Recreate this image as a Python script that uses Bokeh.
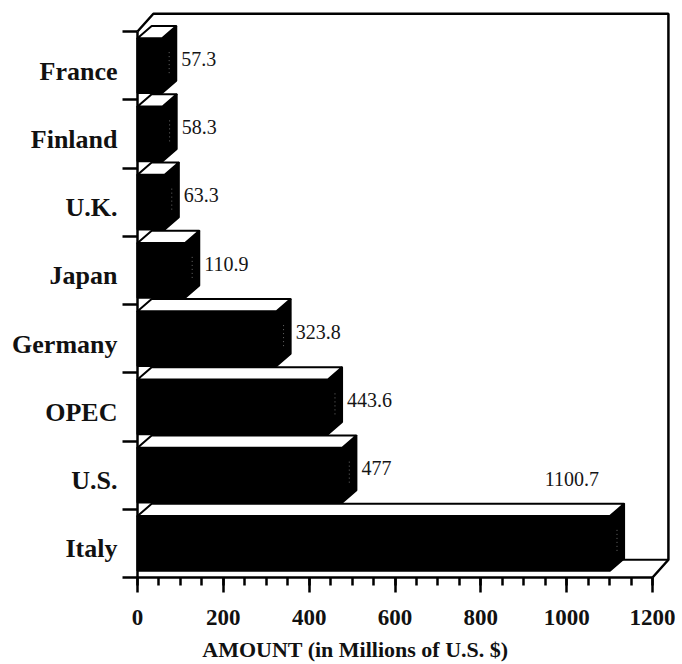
from bokeh.plotting import figure
from bokeh.models import Range1d, FixedTicker, Label
from bokeh.embed import file_html
from bokeh.resources import INLINE
from bokeh.core.properties import value

# Amounts by country, bottom band first
countries = ["Italy", "U.S.", "OPEC", "Germany", "Japan", "U.K.", "Finland", "France"]
amounts = [1100.7, 477, 443.6, 323.8, 110.9, 63.3, 58.3, 57.3]
amount_labels = ["1100.7", "477", "443.6", "323.8", "110.9", "63.3", "58.3", "57.3"]
x_ticks = [0, 200, 400, 600, 800, 1000, 1200]
x_minor = list(range(0, 1201, 50))
axis_title = "AMOUNT (in Millions of U.S. $)"

SERIF = "Liberation Serif"
N = len(countries)
X_MAX = 1200

# oblique depth of the bars and of the surrounding box (data units)
BAR_DX, BAR_DY = 33.0, 0.18
WALL_DX, WALL_DY = 37.0, 0.26
FRONT_LO, FRONT_HI = 0.10, 0.90

# the frame fills the page; both axes are pinned at zero and their labels
# and the axis title sit in the space left of / below them
p = figure(width=682, height=664, output_backend="svg", toolbar_location=None,
           x_range=Range1d(-319.2, 1253.5), y_range=Range1d(-1.2747, 8.381),
           min_border_left=0, min_border_right=7, min_border_top=5,
           min_border_bottom=0)
p.grid.visible = False
p.outline_line_color = None
p.background_fill_color = "white"
p.border_fill_color = "white"

# --- box: top edge, right wall and floor ---
p.line([0, WALL_DX, X_MAX + WALL_DX, X_MAX + WALL_DX, X_MAX],
       [N, N + WALL_DY, N + WALL_DY, WALL_DY, 0],
       line_color="black", line_width=2.5)
p.line([0, X_MAX + WALL_DX], [WALL_DY, WALL_DY], line_color="black", line_width=2)

# --- 3D bars: front face, right side, top face ---
fronts_x, fronts_y, sides_x, sides_y, tops_x, tops_y = [], [], [], [], [], []
hatch_x, hatch_y = [], []
for i in reversed(range(N)):
    v = amounts[i]
    lo, hi = i + FRONT_LO, i + FRONT_HI
    fronts_x.append([0, v, v, 0])
    fronts_y.append([lo, lo, hi, hi])
    sides_x.append([v, v + BAR_DX, v + BAR_DX, v])
    sides_y.append([lo, lo + BAR_DY, hi + BAR_DY, hi])
    tops_x.append([0, v, v + BAR_DX, BAR_DX])
    tops_y.append([hi, hi, hi + BAR_DY, hi + BAR_DY])
    hatch_x.append([v + BAR_DX / 2, v + BAR_DX / 2])
    hatch_y.append([i + 0.3 + BAR_DY / 2, i + 0.65 + BAR_DY / 2])

p.patches(fronts_x, fronts_y, fill_color="black", line_color="black", line_width=2)
p.patches(sides_x, sides_y, fill_color="black", line_color="black", line_width=2)
p.multi_line(hatch_x, hatch_y, line_color="#6a6a6a", line_width=1, line_dash="1 3")
p.patches(tops_x, tops_y, fill_color="white", line_color="black", line_width=2,
          line_join="round")

# --- value labels ---
side_x = [amounts[i] + BAR_DX for i in range(1, N)]
side_y = [i + 0.6 for i in range(1, N)]
p.text(x=side_x, y=side_y, text=amount_labels[1:], text_font=value(SERIF),
       text_font_size="20px", text_color="#151515", text_align="left",
       text_baseline="middle", x_offset=5)
p.text(x=[amounts[0]], y=[1.45], text=[amount_labels[0]], text_font=value(SERIF),
       text_font_size="20px", text_color="#151515", text_align="right",
       text_baseline="middle", x_offset=-11)

# --- y axis at x = 0: band edges as ticks, country names between them ---
yax = p.yaxis[0]
yax.fixed_location = 0
label_pos = [round(i + 0.42, 2) for i in range(N)]
yax.ticker = FixedTicker(ticks=label_pos, minor_ticks=list(range(N + 1)))
yax.major_label_overrides = {label_pos[i]: countries[i] for i in range(N)}
yax.bounds = (0, N)
yax.axis_line_width = 2.5
yax.major_tick_out = 0
yax.major_tick_in = 0
yax.minor_tick_out = 15
yax.minor_tick_in = 0
yax.minor_tick_line_width = 2.5
yax.major_label_standoff = 5
yax.major_label_text_font = SERIF
yax.major_label_text_font_style = "bold"
yax.major_label_text_font_size = "26px"
yax.major_label_text_color = "#111111"

# --- x axis at y = 0 ---
xax = p.xaxis[0]
xax.fixed_location = 0
xax.ticker = FixedTicker(ticks=x_ticks, minor_ticks=x_minor)
xax.bounds = (0, X_MAX)
xax.axis_line_width = 2.5
xax.major_tick_out = 15
xax.major_tick_in = 0
xax.major_tick_line_width = 2.5
xax.minor_tick_out = 8
xax.minor_tick_in = 0
xax.minor_tick_line_width = 2.5
xax.major_label_standoff = 17
xax.major_label_text_font = SERIF
xax.major_label_text_font_style = "bold"
xax.major_label_text_font_size = "23px"
xax.major_label_text_color = "#111111"

# axis title below the tick labels, set left of the frame centre
p.add_layout(Label(x=151, y=-1.055, text=axis_title, text_align="left",
                   text_baseline="middle", text_font=SERIF,
                   text_font_style="bold", text_font_size="22px",
                   text_color="#111111"))

open("out.html", "w").write(file_html(p, INLINE))
